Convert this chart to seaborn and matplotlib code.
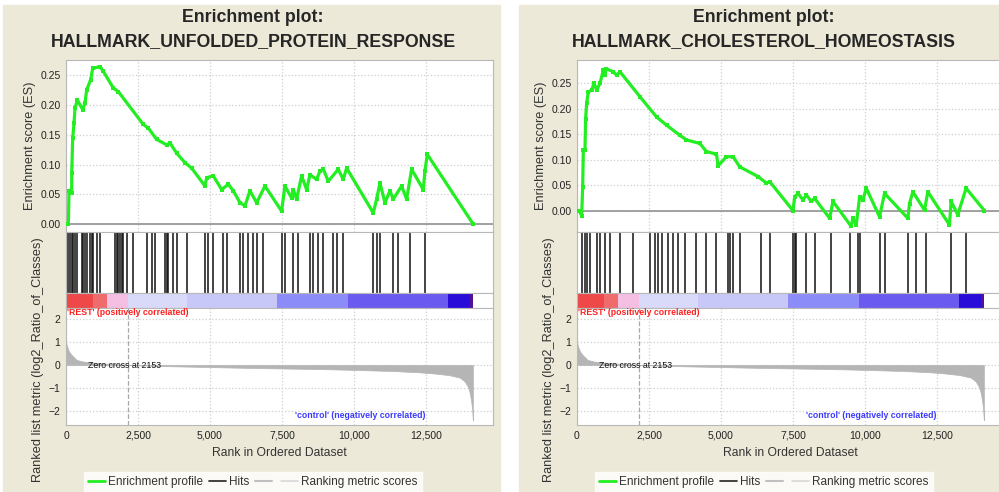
import numpy as np
import pandas as pd
import seaborn as sns
import matplotlib.pyplot as plt
from matplotlib.patches import Rectangle
from matplotlib.lines import Line2D

"""Data read off the two GSEA enrichment plots"""

# ranked list (same dataset in both panels)
rank_pts = [0, 40, 100, 200, 370, 600, 1000, 1500, 2153, 3500, 5000, 6500, 8000, 9300,
            10500, 11500, 12300, 12800, 13300, 13680, 13850, 13960, 14030, 14080, 14110, 14130]
metric_pts = [1.0, 0.8, 0.6, 0.43, 0.22, 0.15, 0.1, 0.05, 0.0, -0.05, -0.09, -0.13, -0.16, -0.19,
              -0.23, -0.27, -0.32, -0.37, -0.44, -0.55, -0.72, -0.95, -1.25, -1.65, -2.0, -2.4]
zero_cross = 2153

# colour strip under the hits
strip_edges = [0, 940, 1424, 2153, 4200, 7326, 9791, 13263, 14027, 14131]
strip_colors = ['#ee4848', '#f06c6c', '#f5bfe4', '#d9d9fa', '#c8c8f8', '#8c8cf8', '#6a5af0', '#2a0cd8', '#50109a']

# left: unfolded protein response
upr_rank = [82, 105, 197, 200, 232, 278, 313, 394, 579, 660, 718, 857, 927, 1181, 1297, 1644,
            1818, 2686, 2859, 3149, 3496, 3612, 3843, 4133, 4364, 4827, 4885, 5116, 5406, 5637,
            5811, 6042, 6216, 6390, 6621, 6910, 7488, 7604, 7836, 7894, 8010, 8183, 8357, 8473,
            8704, 8820, 8936, 9110, 9456, 9630, 9746, 10672, 10788, 10904, 11078, 11250, 11366,
            11656, 11830, 12003, 12408, 12466, 12547, 14144]
upr_es = [0, 0.056, 0.053, 0.086, 0.144, 0.169, 0.194, 0.208, 0.192, 0.203, 0.225, 0.242, 0.261,
          0.264, 0.256, 0.228, 0.222, 0.167, 0.161, 0.142, 0.133, 0.136, 0.119, 0.103, 0.094,
          0.064, 0.078, 0.081, 0.058, 0.067, 0.056, 0.036, 0.031, 0.056, 0.036, 0.064, 0.022,
          0.064, 0.044, 0.058, 0.042, 0.081, 0.058, 0.083, 0.075, 0.089, 0.092, 0.072, 0.092,
          0.075, 0.094, 0.019, 0.042, 0.069, 0.036, 0.056, 0.042, 0.064, 0.042, 0.092, 0.058,
          0.089, 0.117, 0.0]
upr_hits = [82, 140, 197, 255, 313, 371, 545, 603, 660, 718, 834, 892, 950, 1065, 1181, 1702,
            1760, 1818, 1876, 1933, 1991, 2107, 2339, 2802, 2975, 3091, 3438, 3496, 3554, 3727,
            3843, 4190, 4827, 4943, 5116, 5464, 5580, 6042, 6158, 6332, 6505, 6621, 6852, 7488,
            7604, 7894, 8068, 8473, 8589, 8762, 8936, 9283, 9399, 9630, 10672, 10788, 10904,
            11366, 11540, 11945, 12466]

# right: cholesterol homeostasis
chol_rank = [81, 162, 197, 220, 277, 300, 335, 393, 509, 590, 682, 798, 913, 971, 1006, 1260,
             1376, 1491, 2185, 2763, 3110, 3572, 3803, 4266, 4497, 4844, 4901, 5190, 5422, 5653,
             6289, 6578, 6693, 7502, 7560, 7676, 7849, 7965, 8138, 8254, 8774, 8890, 9525, 9583,
             9699, 9815, 9930, 10046, 10508, 10681, 11490, 11548, 11664, 12069, 12185, 12936,
             12993, 13225, 13514, 14150]
chol_es = [0, -0.010, 0.047, 0.119, 0.119, 0.181, 0.211, 0.233, 0.237, 0.250, 0.237, 0.250,
           0.276, 0.266, 0.279, 0.273, 0.266, 0.273, 0.224, 0.184, 0.168, 0.148, 0.139, 0.132,
           0.116, 0.111, 0.088, 0.106, 0.106, 0.086, 0.067, 0.054, 0.057, 0.0, 0.027, 0.034,
           0.021, 0.031, 0.018, 0.024, -0.015, 0.018, -0.031, -0.015, -0.028, 0.027, 0.021,
           0.044, -0.012, 0.034, -0.015, 0.014, 0.037, 0.001, 0.037, -0.028, 0.018, -0.008,
           0.044, 0.0]
chol_hits = [162, 277, 335, 451, 682, 798, 971, 1144, 1491, 1954, 2532, 2705, 2821, 2936, 3167,
             3341, 3514, 3745, 4150, 4497, 4844, 5248, 5306, 5422, 5653, 6404, 6693, 7502, 7560,
             7618, 7965, 8254, 8832, 9468, 9757, 9815, 10508, 10681, 11490, 11780, 12127, 12993,
             13514]

titles = ['HALLMARK_UNFOLDED_PROTEIN_RESPONSE', 'HALLMARK_CHOLESTEROL_HOMEOSTASIS']
x_ticks = [0, 2500, 5000, 7500, 10000, 12500]
es_ticks = [0.0, 0.05, 0.10, 0.15, 0.20, 0.25]
metric_ticks = [2, 1, 0, -1, -2]

sns.set_style('white')
plt.rcParams['font.family'] = ['Liberation Sans', 'DejaVu Sans']

W, H = 999, 492
fig = plt.figure(figsize=(W / 100, H / 100), dpi=100)
BEIGE = '#ece9d8'
GREEN = '#22ee22'


def fax(x0, y0, x1, y1):
    return fig.add_axes([x0 / W, 1 - y1 / H, (x1 - x0) / W, (y1 - y0) / H])


def style(ax):
    for s in ax.spines.values():
        s.set_color('#b8b8b8')
        s.set_linewidth(0.8)
    ax.tick_params(length=2, color='#999999', labelsize=7.5, labelcolor='#222222', pad=2)


def panel(dx, bg, title, es_rank, es_vals, hits, es_lim):
    # beige panel behind each plot
    fig.add_artist(Rectangle((bg[0] / W, 0), (bg[1] - bg[0]) / W, (H - 5) / H,
                             transform=fig.transFigure, color=BEIGE, zorder=-5))
    cx = 253 + dx
    fig.text(cx / W, 1 - 17 / H, 'Enrichment plot:', ha='center', va='center', fontsize=12.8, fontweight='bold')
    fig.text(cx / W, 1 - 42 / H, title, ha='center', va='center', fontsize=12.8, fontweight='bold')

    x0, x1 = 66 + dx, 493 + dx
    xlim = (0, 14830)

    # enrichment score
    ax1 = fax(x0, 60, x1, 232)
    df = pd.DataFrame({'rank': es_rank, 'es': es_vals})
    ax1.axhline(0, color='#9a9a9a', lw=1.3, zorder=1)
    sns.lineplot(data=df, x='rank', y='es', ax=ax1, color=GREEN, lw=2.3, marker='s', markersize=2.5,
                 markeredgewidth=0, estimator=None, sort=False, zorder=3)
    ax1.set_xlim(xlim)
    ax1.set_ylim(es_lim)
    ax1.set_xticks(x_ticks)
    ax1.set_xticklabels([])
    ax1.tick_params(axis='x', length=0)
    ax1.set_yticks(es_ticks)
    ax1.set_yticklabels([f'{t:.2f}' for t in es_ticks])
    ax1.grid(True, ls=':', color='#cfcfcf', lw=0.9)
    ax1.set_xlabel('')
    ax1.set_ylabel('Enrichment score (ES)', fontsize=9.2, color='#333333')
    ax1.yaxis.set_label_coords((36 - 66) / 427, 0.5)
    style(ax1)

    # hits
    ax2 = fax(x0, 232, x1, 293)
    ax2.vlines(hits, 0, 1, color='#111111', lw=1.1)
    ax2.set_xlim(xlim)
    ax2.set_ylim(0, 1)
    ax2.set_xticks([])
    ax2.set_yticks([])
    style(ax2)

    # colour strip
    ax3 = fax(x0, 293, x1, 308)
    ax3.bar(strip_edges[:-1], 1, width=np.diff(strip_edges), align='edge', color=strip_colors, lw=0)
    ax3.set_xlim(xlim)
    ax3.set_ylim(0, 1)
    ax3.set_xticks([])
    ax3.set_yticks([])
    style(ax3)

    # ranked list metric
    ax4 = fax(x0, 308, x1, 425)
    ax4.fill_between(rank_pts, 0, metric_pts, color='#b5b5b5', lw=0.5, edgecolor='#b5b5b5')
    ax4.axvline(zero_cross, color='#a8a8a8', ls='--', lw=0.9)
    ax4.set_xlim(xlim)
    ax4.set_ylim(-2.61, 2.48)
    ax4.set_xticks(x_ticks)
    ax4.set_xticklabels([f'{t:,}' for t in x_ticks])
    ax4.set_yticks(metric_ticks)
    ax4.grid(True, ls=':', color='#cfcfcf', lw=0.9)
    ax4.text(50, 2.27, "'REST' (positively correlated)", color='#ff2020', fontsize=6.3,
             fontweight='bold', va='center', ha='left')
    ax4.text(12470, -2.2, "'control' (negatively correlated)", color='#3a3aff', fontsize=6.3,
             fontweight='bold', va='center', ha='right')
    ax4.text(780, -0.04, f'Zero cross at {zero_cross}', color='#111111', fontsize=6.3,
             va='center', ha='left')
    ax4.set_xlabel('Rank in Ordered Dataset', fontsize=8.7, color='#333333')
    ax4.xaxis.set_label_coords(0.5, -0.19)
    ax4.set_ylabel('Ranked list metric (log2_Ratio_of_Classes)', fontsize=9.2, color='#333333')
    ax4.yaxis.set_label_coords((44 - 66) / 427, 0.555)
    style(ax4)

    handles = [Line2D([], [], color=GREEN, lw=2), Line2D([], [], color='#222222', lw=1.2),
               Line2D([], [], color='#c0c0c0', lw=1.5), Line2D([], [], color='#d8d8d8', lw=1.2)]
    labels = ['Enrichment profile', 'Hits', '', 'Ranking metric scores']
    leg = fig.legend(handles, labels, loc='lower center', bbox_to_anchor=((253 + dx) / W, -0.012),
                     ncol=4, frameon=True, fancybox=False, edgecolor='white', facecolor='white',
                     fontsize=8.5, handlelength=1.4, handletextpad=0.3, columnspacing=0.5,
                     borderpad=0.35)
    for t in leg.get_texts():
        t.set_color('#333333')


panel(0, (3, 500), titles[0], upr_rank, upr_es, upr_hits, (-0.013, 0.275))
panel(511, (519, 999), titles[1], chol_rank, chol_es, chol_hits, (-0.042, 0.296))

plt.savefig('out.png', dpi=100)
